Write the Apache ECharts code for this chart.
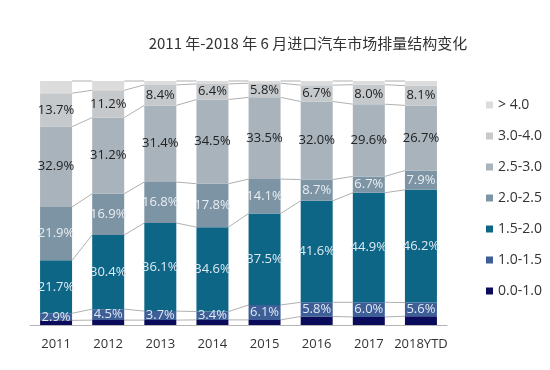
<!DOCTYPE html>
<html><head><meta charset="utf-8">
<script src="https://cdn.jsdelivr.net/npm/echarts@6/dist/echarts.min.js"></script>
<style>html,body{margin:0;padding:0;background:#fff}#c{width:550px;height:370px}</style>
</head><body><div id="c"></div>
<script>
const categories = ['2011','2012','2013','2014','2015','2016','2017','2018YTD'];
const seriesNames = ['0.0-1.0','1.0-1.5','1.5-2.0','2.0-2.5','2.5-3.0','3.0-4.0','> 4.0'];
const s00_10 = [1.9, 2.0, 2.0, 2.1, 2.1, 3.5, 3.3, 3.6];
const s10_15 = [2.9, 4.5, 3.7, 3.4, 6.1, 5.8, 6.0, 5.6];
const s15_20 = [21.7, 30.4, 36.1, 34.6, 37.5, 41.6, 44.9, 46.2];
const s20_25 = [21.9, 16.9, 16.8, 17.8, 14.1, 8.7, 6.7, 7.9];
const s25_30 = [32.9, 31.2, 31.4, 34.5, 33.5, 32.0, 29.6, 26.7];
const s30_40 = [13.7, 11.2, 8.4, 6.4, 5.8, 6.7, 8.0, 8.1];
const s40 = [5.0, 3.8, 1.6, 1.2, 0.9, 1.7, 1.5, 1.9];
const allSeries = [s00_10, s10_15, s15_20, s20_25, s25_30, s30_40, s40];
const colors = ['#0b0b5c','#3d5e96','#0e6686','#7d94a4','#a9b3bb','#c6c9cc','#dcdcdc'];
const labelShow = [false, true, true, true, true, true, false];
const labelColor = ['#fff','#dfe9f2','#dfe9f2','#e8eef2','#222','#222','#222'];
const BW = 32;

const chart = echarts.init(document.getElementById('c'));
const barSeries = allSeries.map((arr, k) => ({
  name: seriesNames[k], type: 'bar', stack: 'total', barWidth: BW,
  itemStyle: { color: colors[k] },
  label: { show: labelShow[k], position: 'inside', color: labelColor[k],
    fontSize: 13, fontFamily: 'Open Sans',
    formatter: p => p.value.toFixed(1) + '%' },
  data: arr
}));

const connector = {
  type: 'custom', silent: true, z: 1,
  data: categories.map((c, i) => [i]),
  renderItem: function (params, api) {
    const i = params.dataIndex;
    if (i >= categories.length - 1) return null;
    const children = [];
    let cumA = 0, cumB = 0;
    for (let k = 0; k < allSeries.length; k++) {
      cumA += allSeries[k][i]; cumB += allSeries[k][i + 1];
      const p1 = api.coord([i, cumA]);
      const p2 = api.coord([i + 1, cumB]);
      children.push({ type: 'line', shape: { x1: p1[0] + BW / 2, y1: p1[1], x2: p2[0] - BW / 2, y2: p2[1] },
        style: { stroke: '#b0b0b0', lineWidth: 1 } });
    }
    return { type: 'group', children };
  }
};

chart.setOption({
  animation: false,
  title: { text: '2011 年-2018 年 6 月进口汽车市场排量结构变化', left: 303, top: 31, textAlign: 'center',
    textStyle: { fontSize: 15, fontWeight: 'normal', color: '#333', fontFamily: 'Noto Sans CJK SC' } },
  legend: { orient: 'vertical', left: 481, top: 93, itemGap: 17, itemWidth: 7, itemHeight: 7, icon: 'rect',
    data: seriesNames.slice().reverse(),
    textStyle: { fontSize: 14, color: '#333', fontFamily: 'Open Sans' } },
  grid: { left: 30, right: 103, top: 81, bottom: 45 },
  xAxis: { type: 'category', data: categories,
    axisLine: { lineStyle: { color: '#b5b5b5' } }, axisTick: { show: false },
    axisLabel: { color: '#333', fontSize: 13, fontFamily: 'Open Sans', margin: 13, interval: 0 } },
  yAxis: { type: 'value', min: 0, max: 100, show: false, splitLine: { show: false } },
  series: [connector].concat(barSeries)
});
</script></body></html>
